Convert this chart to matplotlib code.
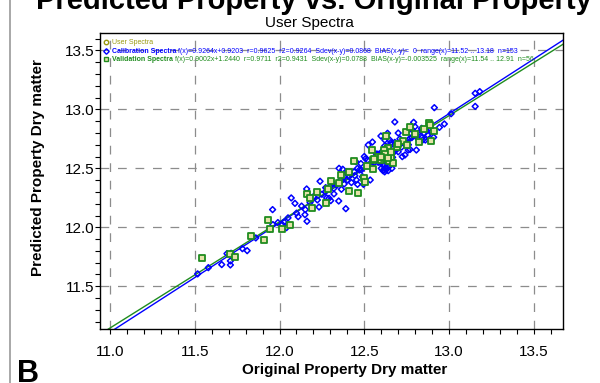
import numpy as np
import matplotlib.pyplot as plt
from matplotlib.lines import Line2D
from matplotlib.ticker import MultipleLocator

plt.rcParams['font.family'] = ['Liberation Sans', 'DejaVu Sans']

# calibration spectra (blue diamonds)
cal_x = [11.517, 11.580, 11.659, 11.690, 11.710, 11.710, 11.714, 11.781, 11.809, 11.860,
         11.941, 11.959, 11.961, 11.990, 12.016, 12.026, 12.041, 12.069, 12.091, 12.110,
         12.150, 12.152, 12.160, 12.162, 12.239, 12.223, 12.233, 12.272, 12.278, 12.292,
         12.302, 12.310, 12.321, 12.349, 12.351, 12.365, 12.373, 12.381, 12.391, 12.394,
         12.400, 12.410, 12.424, 12.444, 12.450, 12.454, 12.460, 12.471, 12.483, 12.489,
         12.495, 12.507, 12.523, 12.535, 12.548, 12.558, 12.572, 12.582, 12.590, 12.598,
         12.604, 12.609, 12.613, 12.617, 12.621, 12.627, 12.629, 12.633, 12.637, 12.641,
         12.647, 12.653, 12.657, 12.663, 12.667, 12.680, 12.684, 12.692, 12.700, 12.716,
         12.724, 12.740, 12.751, 12.759, 12.769, 12.775, 12.783, 12.791, 12.799, 12.807,
         12.819, 12.838, 12.844, 12.854, 12.864, 12.874, 12.884, 12.897, 12.909, 12.913,
         12.943, 12.972, 13.012, 13.154, 13.154, 13.181,
         12.60, 12.61, 12.62, 12.63, 12.64, 12.65, 12.62, 12.60, 12.59, 12.61,
         12.63, 12.66, 12.67, 12.64, 12.62, 12.66, 12.68, 12.65, 12.58, 12.56,
         12.54, 12.52, 12.50, 12.48, 12.46, 12.44, 12.42, 12.40, 12.38, 12.36,
         12.34, 12.32, 12.30, 12.27, 12.25, 12.20, 12.18, 12.13, 12.10, 12.05,
         12.72, 12.74, 12.76, 12.78, 12.80, 12.82, 12.84, 12.86, 12.70, 12.71,
         12.77]
cal_y = [11.605, 11.658, 11.684, 11.777, 11.715, 11.681, 11.780, 11.819, 11.802, 11.910,
         11.983, 12.150, 12.023, 12.040, 12.023, 12.045, 11.997, 12.249, 12.203, 12.090,
         12.107, 12.150, 12.325, 12.051, 12.390, 12.232, 12.172, 12.336, 12.249, 12.246,
         12.226, 12.379, 12.283, 12.223, 12.500, 12.322, 12.492, 12.367, 12.158, 12.472,
         12.401, 12.429, 12.379, 12.438, 12.556, 12.401, 12.364, 12.486, 12.486, 12.429,
         12.364, 12.582, 12.698, 12.401, 12.723, 12.579, 12.621, 12.551, 12.605, 12.774,
         12.641, 12.528, 12.565, 12.486, 12.740, 12.508, 12.599, 12.684, 12.797, 12.480,
         12.571, 12.641, 12.718, 12.500, 12.593, 12.893, 12.698, 12.661, 12.799, 12.712,
         12.599, 12.613, 12.698, 12.655, 12.754, 12.797, 12.825, 12.890, 12.853, 12.655,
         12.746, 12.839, 12.740, 12.797, 12.825, 12.782, 12.746, 12.811, 12.763, 13.014,
         12.847, 12.876, 12.963, 13.025, 13.136, 13.150,
         12.50, 12.48, 12.47, 12.49, 12.51, 12.52, 12.53, 12.55, 12.58, 12.60,
         12.62, 12.60, 12.63, 12.66, 12.69, 12.70, 12.72, 12.74, 12.62, 12.55,
         12.52, 12.57, 12.60, 12.54, 12.50, 12.47, 12.45, 12.46, 12.43, 12.40,
         12.36, 12.33, 12.35, 12.30, 12.28, 12.26, 12.21, 12.18, 12.12, 12.08,
         12.68, 12.72, 12.70, 12.76, 12.78, 12.80, 12.76, 12.74, 12.64, 12.75,
         12.66]

# validation spectra (green squares)
val_x = [11.540, 11.706, 11.740, 11.830, 11.909, 11.929, 11.941, 12.012, 12.061, 12.160,
         12.180, 12.193, 12.272, 12.286, 12.302, 12.351, 12.361, 12.412, 12.440, 12.460,
         12.499, 12.505, 12.515, 12.548, 12.554, 12.554, 12.582, 12.598, 12.617, 12.627,
         12.637, 12.647, 12.657, 12.667, 12.692, 12.731, 12.743, 12.771, 12.824, 12.882,
         12.894, 12.913, 12.890, 12.617, 12.637,
         12.62, 12.64, 12.66, 12.60, 12.56, 12.70, 12.75, 12.80, 12.85, 12.41, 12.22]
val_y = [11.743, 11.777, 11.751, 11.924, 11.895, 12.059, 11.986, 11.986, 12.020, 12.282,
         12.246, 12.167, 12.203, 12.322, 12.395, 12.379, 12.444, 12.308, 12.562, 12.294,
         12.421, 12.387, 12.520, 12.655, 12.571, 12.492, 12.593, 12.571, 12.585, 12.774,
         12.669, 12.562, 12.593, 12.542, 12.684, 12.734, 12.811, 12.853, 12.726, 12.887,
         12.734, 12.819, 12.867, 12.655, 12.613,
         12.62, 12.59, 12.64, 12.60, 12.58, 12.71, 12.70, 12.79, 12.83, 12.47, 12.30]

cal_fit = (0.9264, 0.9203)
val_fit = (0.9002, 1.2440)

lbl_user = 'User Spectra'
lbl_cal = 'Calibration Spectra'
lbl_val = 'Validation Spectra'
stats_cal = 'f(x)=0.9264x+0.9203  r=0.9625  r2=0.9264  Sdev(x-y)=0.0868  BIAS(x-y)=  0  range(x)=11.52 .. 13.18  n=153'
stats_val = 'f(x)=0.9002x+1.2440  r=0.9711  r2=0.9431  Sdev(x-y)=0.0788  BIAS(x-y)=-0.003525  range(x)=11.54 .. 12.91  n=56'

xlim = (10.941, 13.672)
ylim = (11.138, 13.647)

fig = plt.figure(figsize=(6, 3.83), dpi=100)
ax = fig.add_axes([100 / 600, 1 - 329 / 383, 463 / 600, 296 / 383])

blue = '#0000ff'
green = '#1f8c1f'
olive = '#9a9a10'

ax.scatter(cal_x, cal_y, marker='D', s=9, facecolors='none', edgecolors=blue,
           linewidths=1.1, zorder=3)
ax.scatter(val_x, val_y, marker='s', s=16, facecolors='#e6e2a8', edgecolors=green,
           linewidths=1.3, zorder=3)

fx = np.array(xlim)
ax.plot(fx, cal_fit[0] * fx + cal_fit[1], color=blue, lw=1, zorder=2)
ax.plot(fx, val_fit[0] * fx + val_fit[1], color=green, lw=1, zorder=2)

ax.set_xlim(xlim)
ax.set_ylim(ylim)
ax.xaxis.set_major_locator(MultipleLocator(0.5))
ax.yaxis.set_major_locator(MultipleLocator(0.5))
ax.xaxis.set_minor_locator(MultipleLocator(0.1))
ax.yaxis.set_minor_locator(MultipleLocator(0.1))
ax.xaxis.set_major_formatter('{x:.1f}')
ax.yaxis.set_major_formatter('{x:.1f}')
ax.tick_params(which='both', direction='out', length=3.5, width=0.8, labelsize=11)
ax.tick_params(axis='y', pad=0.5)
ax.tick_params(axis='x', pad=8)
ax.grid(True, which='major', color='#8c8c8c', lw=0.9, linestyle=(0, (7, 7)))
for s in ax.spines.values():
    s.set_linewidth(1)

ax.set_xlabel('Original Property Dry matter', fontsize=11, fontweight='bold')
ax.xaxis.set_label_coords(0.529, -0.138)
ax.xaxis.label.set_va('center')
ax.set_ylabel('Predicted Property Dry matter', fontsize=11, fontweight='bold')
ax.yaxis.set_label_coords(-0.134, 0.544)
ax.yaxis.label.set_va('center')

# legend
handles = [Line2D([], [], marker='o', ls='none', ms=3.2, mfc='none', mec=olive, mew=1),
           Line2D([], [], marker='D', ls='none', ms=2.8, mfc='none', mec=blue, mew=1),
           Line2D([], [], marker='s', ls='none', ms=3.5, mfc='#e6e2a8', mec=green, mew=1)]
leg = ax.legend(handles, [lbl_user, lbl_cal, lbl_val], loc='upper left',
                bbox_to_anchor=(0, 0.99), borderaxespad=0, borderpad=0.5, frameon=False,
                fontsize=5.0, handlelength=0.7, handletextpad=0.5, labelspacing=0.22)
texts = leg.get_texts()
for t, c in zip(texts, [olive, blue, green]):
    t.set_color(c)
texts[1].set_fontweight('bold')
texts[2].set_fontweight('bold')
for t, s, c in [(texts[1], stats_cal, blue), (texts[2], stats_val, green)]:
    ax.annotate(s, xy=(1, 0), xycoords=t, xytext=(1.5, 0), textcoords='offset points',
                fontsize=5.0, color=c, va='bottom', ha='left', zorder=10)

fig.text(0.515, 1 - 27.5 / 383, 'User Spectra', ha='center', va='baseline', fontsize=11)
fig.text(0.523, 1 - 9 / 383, 'Predicted Property vs. Original Property',
         ha='center', va='baseline', fontsize=21, fontweight='bold')
fig.text(17 / 600, 1 - 382 / 383, 'B', ha='left', va='baseline', fontsize=22,
         fontweight='bold')
fig.add_artist(Line2D([10 / 600, 10 / 600], [0, 1], transform=fig.transFigure,
                      color='#9a9a9a', lw=1.2))

fig.savefig('out.png', dpi=100)
